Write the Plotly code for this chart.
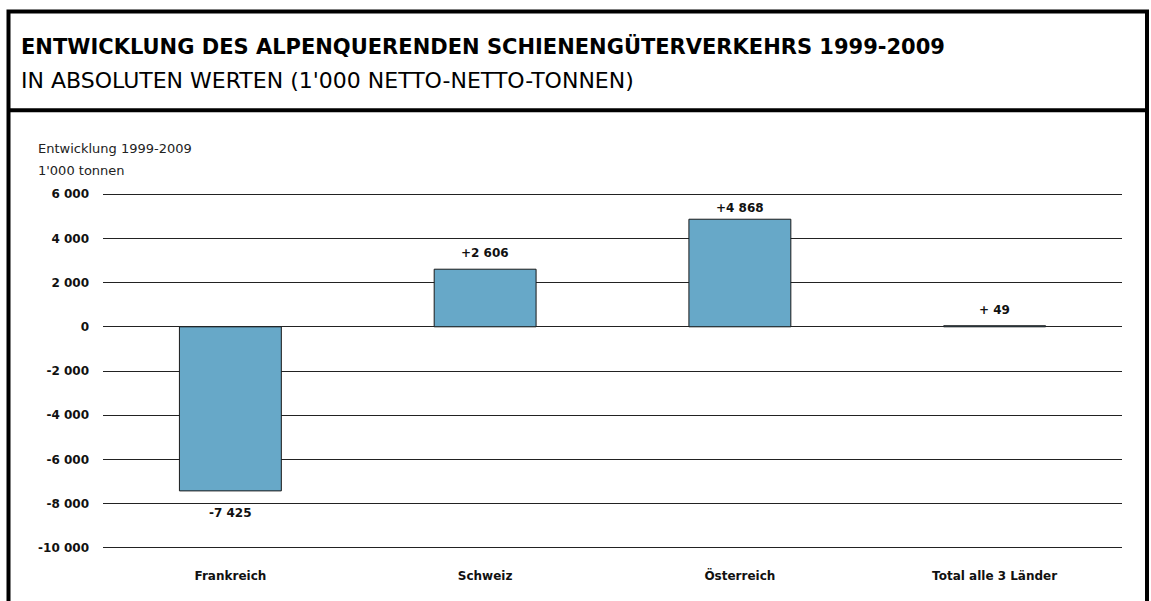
import plotly.graph_objects as go

categories = ["Frankreich", "Schweiz", "Österreich", "Total alle 3 Länder"]
values = [-7425, 2606, 4868, 49]
value_labels = ["-7 425", "+2 606", "+4 868", "+ 49"]
tick_vals = [-10000, -8000, -6000, -4000, -2000, 0, 2000, 4000, 6000]
tick_text = ["-10 000", "-8 000", "-6 000", "-4 000", "-2 000", "0", "2 000", "4 000", "6 000"]

FONT = "DejaVu Sans"
W, H = 1151, 601
PAD = 100  # axis padding in data units so edge gridlines are drawn
SCALE = 354 / 16000  # px per data unit
L, R = 103, 29
T = 194 - PAD * SCALE
B = (601 - 548) - PAD * SCALE
pw, ph = W - L - R, H - T - B
label_shift = [-13, 7, 2, 7]  # pixel offset of value labels from bar ends

def px(x):
    return (x - L) / pw

def py(y):
    return (H - B - y) / ph

fig = go.Figure()
fig.add_trace(go.Bar(
    x=categories, y=values, width=0.4,
    marker=dict(color="#67A8C8", line=dict(color="#1a1a1a", width=1)),
    hoverinfo="skip",
))

annotations = []
for c, v, t, s in zip(categories, values, value_labels, label_shift):
    annotations.append(dict(
        x=c, y=v, xref="x", yref="y", text="<b>%s</b>" % t, showarrow=False,
        font=dict(family=FONT, size=12, color="#111"),
        yanchor="bottom" if v >= 0 else "top",
        yshift=s,
    ))

annotations += [
    dict(x=px(19), y=py(46), xref="paper", yref="paper", xanchor="left", yanchor="middle",
         text="<b>ENTWICKLUNG DES ALPENQUERENDEN SCHIENENGÜTERVERKEHRS 1999-2009</b>",
         showarrow=False, font=dict(family=FONT, size=21, color="#000")),
    dict(x=px(19), y=py(80), xref="paper", yref="paper", xanchor="left", yanchor="middle",
         text="IN ABSOLUTEN WERTEN (1'000 NETTO-NETTO-TONNEN)",
         showarrow=False, font=dict(family=FONT, size=22, color="#000")),
    dict(x=px(36), y=py(148), xref="paper", yref="paper", xanchor="left", yanchor="middle",
         text="Entwicklung 1999-2009", showarrow=False,
         font=dict(family=FONT, size=13, color="#222")),
    dict(x=px(36), y=py(170), xref="paper", yref="paper", xanchor="left", yanchor="middle",
         text="1'000 tonnen", showarrow=False,
         font=dict(family=FONT, size=13, color="#222")),
]

shapes = [
    dict(type="rect", xref="paper", yref="paper",
         x0=px(8.5), x1=px(1147), y0=py(640), y1=py(11),
         line=dict(color="#000", width=4), fillcolor="rgba(0,0,0,0)", layer="above"),
    dict(type="line", xref="paper", yref="paper",
         x0=px(8.5), x1=px(1147), y0=py(110), y1=py(110),
         line=dict(color="#000", width=4), layer="above"),
]

fig.update_layout(
    width=W, height=H,
    margin=dict(l=L, r=R, t=T, b=B, autoexpand=False),
    paper_bgcolor="white", plot_bgcolor="white",
    showlegend=False,
    annotations=annotations,
    shapes=shapes,
    xaxis=dict(
        type="category", showgrid=False, zeroline=False, showline=False,
        ticks="", tickfont=dict(family=FONT, size=12, color="#111"),
        tickvals=categories, ticktext=["<b>%s</b>" % c for c in categories],
        ticklabelstandoff=17,
        fixedrange=True,
    ),
    yaxis=dict(
        range=[-10000 - PAD, 6000 + PAD], tickvals=tick_vals,
        ticktext=["<b>%s</b>" % t for t in tick_text],
        showgrid=True, gridcolor="#222", gridwidth=1,
        zeroline=True, zerolinecolor="#222", zerolinewidth=1,
        showline=False, ticks="", ticklabelstandoff=13,
        tickfont=dict(family=FONT, size=12, color="#111"),
        fixedrange=True,
    ),
)

fig.write_html("out.html", config={"displayModeBar": False},
               post_script="document.body.style.margin='0';document.body.style.padding='0';")
